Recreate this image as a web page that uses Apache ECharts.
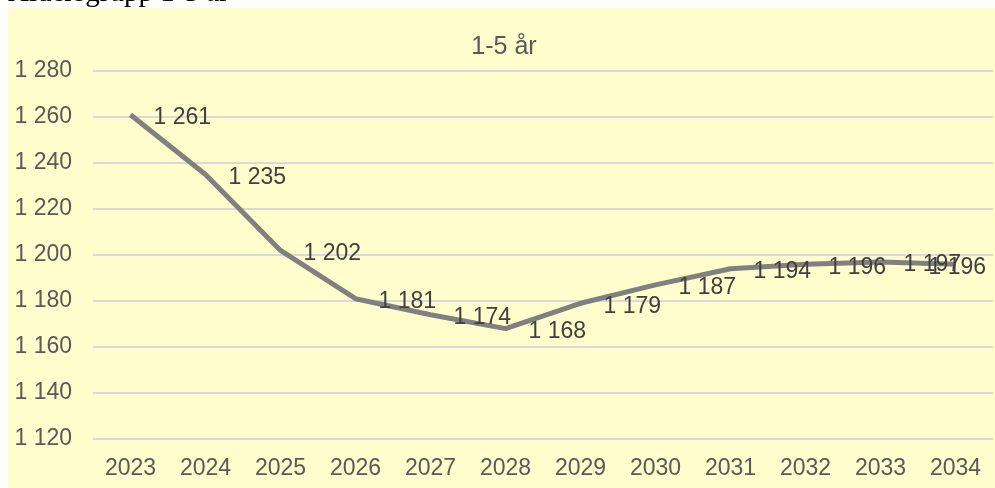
<!DOCTYPE html>
<html>
<head>
<meta charset="utf-8">
<script src="https://cdn.jsdelivr.net/npm/echarts@6/dist/echarts.min.js"></script>
<style>
html,body{margin:0;padding:0;background:#fff;}
#c{width:995px;height:488px;}
</style>
</head>
<body>
<div id="c"></div>
<script>
const categories = ['2023','2024','2025','2026','2027','2028','2029','2030','2031','2032','2033','2034'];
const values = [1261, 1235, 1202, 1181, 1174, 1168, 1179, 1187, 1194, 1196, 1197, 1196];
const yMin = 1120, yMax = 1280, yStep = 20;
const chartTitle = '1-5 år';
const caption = 'Åldersgrupp 1-5 år';

function fmt(v){ return String(v).replace(/\B(?=(\d{3})+(?!\d))/g, ' '); }

const chart = echarts.init(document.getElementById('c'), null, {renderer:'canvas'});
const seriesData = values.map((v,i)=> i === values.length-1
  ? {value:v, label:{offset:[-50,3]}}
  : v);

chart.setOption({
  backgroundColor:'#ffffff',
  animation:false,
  graphic:[
    {type:'rect', z:-10, shape:{x:8,y:8,width:987,height:480}, style:{fill:'#FFFDCC'}},
    {type:'text', x:8, y:-7, style:{text:caption, font:'29px "Liberation Serif"', fill:'#000', verticalAlign:'middle', align:'left'}},
    {type:'text', x:504, y:47, style:{text:chartTitle, font:'25px "Liberation Sans"', fill:'#595959', verticalAlign:'middle', align:'center'}}
  ],
  grid:{left:93, right:2, top:71, bottom:49, containLabel:false},
  xAxis:{
    type:'category', data:categories, boundaryGap:true,
    axisLine:{show:false}, axisTick:{show:false},
    axisLabel:{color:'#595959', fontSize:23, fontFamily:'Liberation Sans', margin:18}
  },
  yAxis:{
    type:'value', min:yMin, max:yMax, interval:yStep,
    axisLine:{show:false}, axisTick:{show:false},
    splitLine:{lineStyle:{color:'#d9d9d9', width:2}},
    axisLabel:{color:'#595959', fontSize:23, fontFamily:'Liberation Sans', margin:21, formatter:fmt}
  },
  series:[{
    type:'line', data:seriesData,
    symbol:'circle', symbolSize:0, showSymbol:true,
    lineStyle:{color:'#808080', width:5},
    itemStyle:{color:'#808080'},
    label:{show:true, position:'right', distance:23, offset:[0,3], color:'#404040', fontSize:23, fontFamily:'Liberation Sans', formatter:p=>fmt(p.value)}
  }]
});
</script>
</body>
</html>
